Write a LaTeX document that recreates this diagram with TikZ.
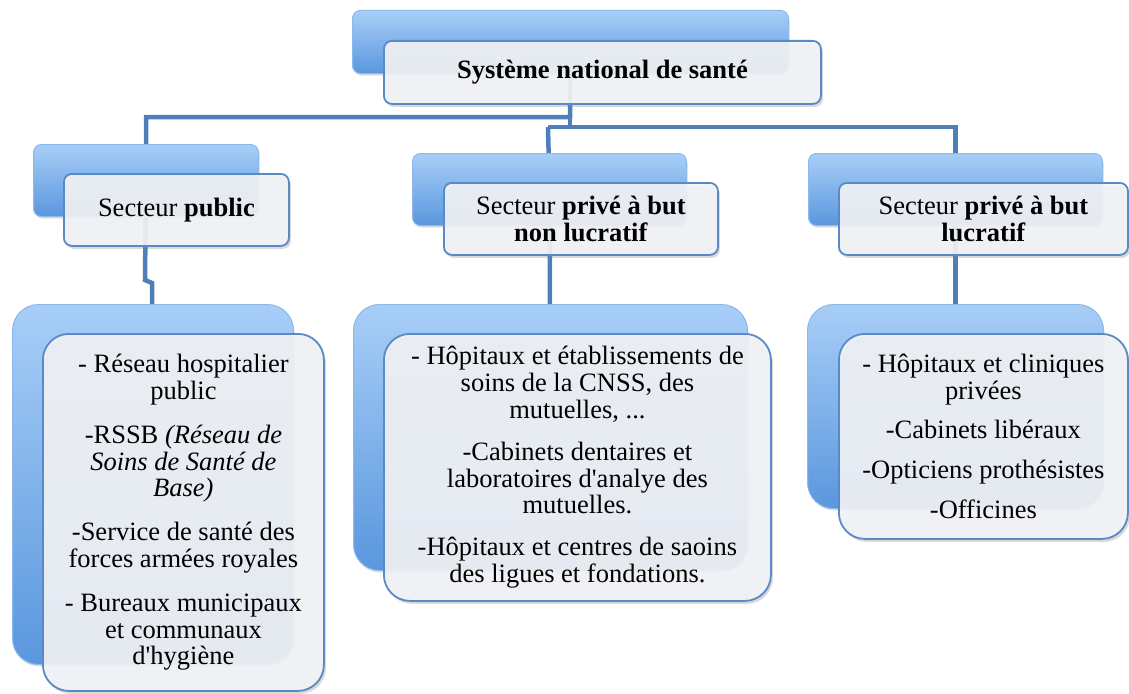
\documentclass[tikz,border=0pt]{standalone}
\usepackage{fontspec}
\setmainfont{Liberation Serif}[Ligatures=TeXOff]
\usetikzlibrary{shadows,backgrounds}

\definecolor{linkblue}{HTML}{4F7FB8}
\definecolor{cardtop}{HTML}{A8CEF7}
\definecolor{cardbottom}{HTML}{5A97DE}
\definecolor{cardedge}{HTML}{8DB8EC}
\definecolor{frameblue}{HTML}{5A8AC6}
\definecolor{paper}{HTML}{F3F4F7}

\tikzset{
  link/.style={draw=linkblue, line width=4.5pt},
  backcard/.style={anchor=north west, inner sep=0pt, draw=cardedge, line width=1pt,
    top color=cardtop, bottom color=cardbottom, rounded corners=8pt,
    drop shadow={shadow xshift=1pt, shadow yshift=-2pt, opacity=0.25}},
  frontcard/.style={anchor=north west, inner sep=0pt, draw=frameblue, line width=1.8pt,
    fill=paper, fill opacity=0.9, text opacity=1, rounded corners=8pt, align=center,
    font=\fontsize{26.5}{26.8}\selectfont,
    drop shadow={shadow xshift=2pt, shadow yshift=-3pt, opacity=0.3}},
}

\begin{document}
\begin{tikzpicture}[x=1pt, y=-1pt]
  \useasboundingbox (0,0) rectangle (1129,693);

  % back cards
  \node[backcard, minimum width=436pt, minimum height=63pt] (national-back) at (352,10) {};
  \node[backcard, minimum width=225pt, minimum height=72pt] (public-back) at (33,144) {};
  \node[backcard, minimum width=274pt, minimum height=72pt] (nonlucratif-back) at (412,153) {};
  \node[backcard, minimum width=294pt, minimum height=72pt] (lucratif-back) at (808,153) {};
  \node[backcard, rounded corners=26pt, minimum width=281pt, minimum height=360pt] (publicdetail-back) at (12,304) {};
  \node[backcard, rounded corners=26pt, minimum width=394pt, minimum height=266pt] (nonlucratifdetail-back) at (353,304) {};
  \node[backcard, rounded corners=26pt, minimum width=296pt, minimum height=204pt] (lucratifdetail-back) at (807,304) {};

  % connectors, behind everything
  \coordinate (split) at (570,117);
  \coordinate (bus) at (548,127);
  \coordinate (publicbend) at (145,280);
  \coordinate (publicbend2) at (152,283);
  \begin{pgfonlayer}{background}
    \draw[link] (national-back.center) -- (split) -| (public-back.center);
    \draw[link] (split) -- (split |- bus);
    \draw[link] (bus) -- (bus -| lucratif-back.center) -- (lucratif-back.center);
    \draw[link] (bus) -- (nonlucratif-back.center);
    \draw[link] (public-back.center) -- (publicbend) -- (publicbend2) -- (publicdetail-back.center);
    \draw[link] (nonlucratif-back.center) -- (nonlucratifdetail-back.center);
    \draw[link] (lucratif-back.center) -- (lucratifdetail-back.center);
  \end{pgfonlayer}

  % front cards
  \node[frontcard, minimum width=437pt, minimum height=63pt] (national) at (383,40)
    {\textbf{Système national de santé}};
  \node[frontcard, minimum width=225pt, minimum height=72pt] (public) at (63,173)
    {Secteur \textbf{public}};
  \node[frontcard, minimum width=274pt, minimum height=72pt] (nonlucratif) at (443,182)
    {Secteur \textbf{privé à but}\\ \textbf{non lucratif}};
  \node[frontcard, minimum width=289pt, minimum height=72pt] (lucratif) at (838,182)
    {Secteur \textbf{privé à but}\\ \textbf{lucratif}};
  \node[frontcard, rounded corners=26pt, minimum width=281pt, minimum height=357pt] (publicdetail) at (42,333)
    {- Réseau hospitalier\\ public\\[17pt]
     -RSSB {\itshape (Réseau de}\\ {\itshape Soins de Santé de}\\ {\itshape Base)}\\[17pt]
     -Service de santé des\\ forces armées royales\\[17pt]
     - Bureaux municipaux\\ et communaux\\ d'hygiène};
  \node[frontcard, rounded corners=26pt, minimum width=387pt, minimum height=267pt] (nonlucratifdetail) at (383,333)
    {- Hôpitaux et établissements de\\ soins de la CNSS, des\\ mutuelles, ...\\[15pt]
     -Cabinets dentaires et\\ laboratoires d'analye des\\ mutuelles.\\[15pt]
     -Hôpitaux et centres de saoins\\ des ligues et fondations.};
  \node[frontcard, rounded corners=26pt, minimum width=289pt, minimum height=205pt] (lucratifdetail) at (838,333)
    {- Hôpitaux et cliniques\\ privées\\[13pt]
     -Cabinets libéraux\\[13pt]
     -Opticiens prothésistes\\[13pt]
     -Officines};
\end{tikzpicture}
\end{document}
